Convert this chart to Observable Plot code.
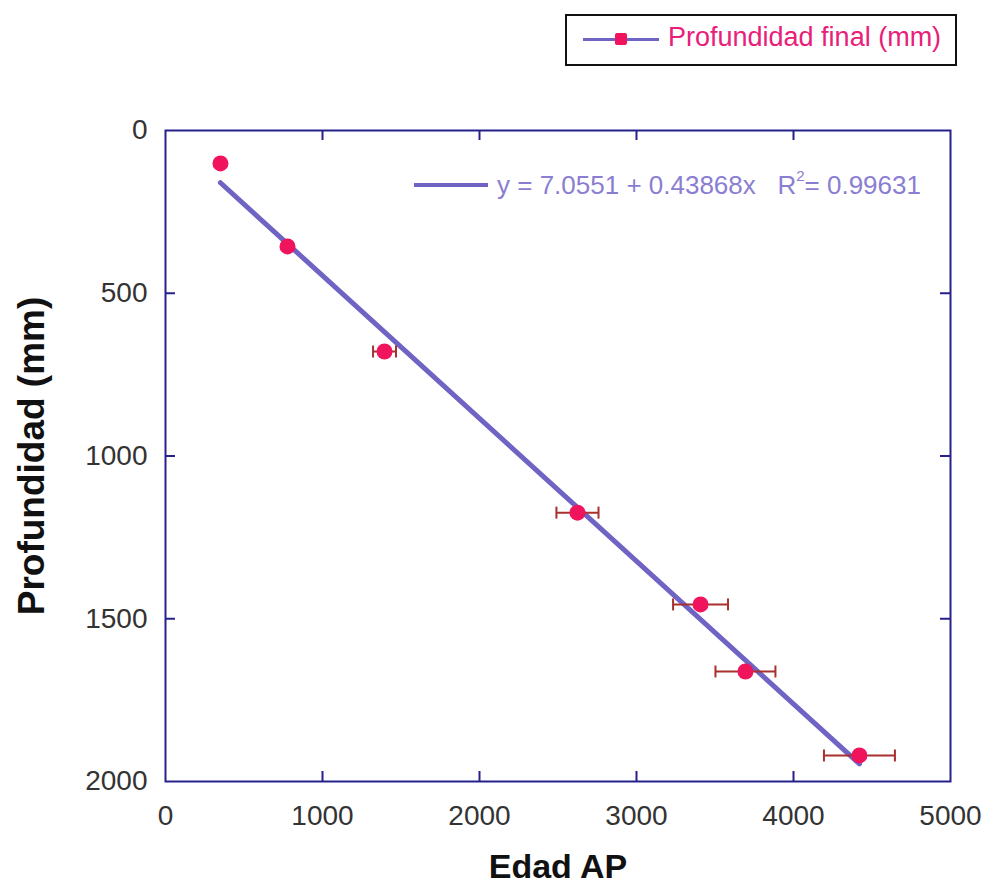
<!DOCTYPE html>
<html>
<head>
<meta charset="utf-8">
<script src="https://cdn.jsdelivr.net/npm/d3@7"></script>
<script src="https://cdn.jsdelivr.net/npm/@observablehq/plot@0.6"></script>
<style>
  html, body { margin: 0; padding: 0; background: #fff; }
  #chart { position: relative; width: 990px; height: 890px; font-family: "Liberation Sans", Arial, sans-serif; }
  #chart svg { display: block; }
  .legend {
    position: absolute; left: 565px; top: 14px; width: 388px; height: 48px;
    border: 2px solid #111; box-sizing: content-box; background: #fff;
  }
  .legend .line { position: absolute; left: 16px; top: 22px; width: 76px; height: 3px; background: #6f63c4; }
  .legend .mark { position: absolute; left: 48px; top: 17px; width: 12px; height: 12px; background: #f0145c; border-radius: 2px; }
  .legend .txt { position: absolute; left: 101px; top: 6px; font-size: 27px; color: #e8207a; white-space: nowrap; }
  .fit { position: absolute; left: 414px; top: 170px; white-space: nowrap; }
  .fit .line { position: absolute; left: 0; top: 13px; width: 74px; height: 4px; background: #6f63c4; }
  .fit .txt { position: absolute; left: 83px; top: 0; font-size: 26px; color: #8a7ed2; }
  .fit sup { font-size: 15px; position: relative; top: -3px; }
</style>
</head>
<body>
<div id="chart"></div>
<script>
// Age (years BP), final depth (mm) and age uncertainty for each dated level
const ages = [350, 777, 1395, 2624, 3408, 3694, 4420];
const depths = [101, 356, 679, 1174, 1456, 1662, 1920];
const ageErrors = [0, 0, 73, 134, 175, 191, 226];

// Linear fit reported for the series
const intercept = 7.0551;
const slope = 0.43868;
const r2 = 0.99631;

// Axis ticks
const xTicks = [0, 1000, 2000, 3000, 4000, 5000];
const yTicks = [0, 500, 1000, 1500, 2000];
const xInnerTicks = [1000, 2000, 3000, 4000];
const yInnerTicks = [500, 1000, 1500];

const rows = ages.map((a, i) => ({age: a, depth: depths[i], err: ageErrors[i]}));
const withErr = rows.filter(d => d.err > 0);
const [a0, a1] = d3.extent(ages);
const fitLine = [a0, a1].map(a => ({age: a, depth: intercept + slope * a}));

// vertical bar used as error-bar caps
const capSymbol = {
  draw(ctx, size) {
    const h = Math.sqrt(size / Math.PI);
    ctx.moveTo(0, -h);
    ctx.lineTo(0, h);
  }
};

const frameColor = "#25208c";
const W = 990, H = 890, mL = 165, mR = 40, mT = 130, mB = 109;
const innerH = H - mT - mB, innerW = W - mL - mR;
const tickLen = 10;

const plot = Plot.plot({
  width: W,
  height: H,
  marginLeft: mL,
  marginRight: mR,
  marginTop: mT,
  marginBottom: mB,
  style: {fontFamily: "'Liberation Sans', Arial, sans-serif", fontSize: "28px", color: "#333", background: "#fff"},
  x: {domain: [0, 5000], label: null},
  y: {domain: [0, 2000], reverse: true, label: null},
  marks: [
    // inward ticks on all four sides
    Plot.tickX(xInnerTicks, {x: d => d, insetTop: innerH - tickLen, stroke: frameColor, strokeWidth: 2}),
    Plot.tickX(xInnerTicks, {x: d => d, insetBottom: innerH - tickLen, stroke: frameColor, strokeWidth: 2}),
    Plot.tickY(yInnerTicks, {y: d => d, insetRight: innerW - tickLen, stroke: frameColor, strokeWidth: 2}),
    Plot.tickY(yInnerTicks, {y: d => d, insetLeft: innerW - tickLen, stroke: frameColor, strokeWidth: 2}),
    Plot.axisX({ticks: xTicks, tickFormat: d => String(d), tickSize: 0, tickPadding: 24, fontSize: 28, fill: "#333", label: null}),
    Plot.axisY({ticks: yTicks, tickFormat: d => String(d), tickSize: 0, tickPadding: 18, fontSize: 28, fill: "#333", label: null}),
    Plot.frame({stroke: frameColor, strokeWidth: 2}),
    // regression line
    Plot.line(fitLine, {x: "age", y: "depth", stroke: "#6f63c4", strokeWidth: 5}),
    // horizontal error bars
    Plot.ruleY(withErr, {y: "depth", x1: d => d.age - d.err, x2: d => d.age + d.err, stroke: "#a8302e", strokeWidth: 2}),
    Plot.dot(withErr, {x: d => d.age - d.err, y: "depth", symbol: capSymbol, r: 6, stroke: "#a8302e", strokeWidth: 2, fill: "none"}),
    Plot.dot(withErr, {x: d => d.age + d.err, y: "depth", symbol: capSymbol, r: 6, stroke: "#a8302e", strokeWidth: 2, fill: "none"}),
    // data points
    Plot.dot(rows, {x: "age", y: "depth", r: 8, fill: "#f0145c", stroke: "none"}),
    // axis titles
    Plot.text(["Profundidad (mm)"], {frameAnchor: "left", textAnchor: "middle", rotate: -90, dx: -133, fontSize: 37, fontWeight: "bold", fill: "#111"}),
    Plot.text(["Edad AP"], {frameAnchor: "bottom", dy: 96, fontSize: 34, fontWeight: "bold", fill: "#111"})
  ]
});

const chart = document.getElementById("chart");
chart.appendChild(plot);

const legend = document.createElement("div");
legend.className = "legend";
legend.innerHTML = '<div class="line"></div><div class="mark"></div><div class="txt">Profundidad final (mm)</div>';
chart.appendChild(legend);

const fit = document.createElement("div");
fit.className = "fit";
fit.innerHTML = '<div class="line"></div><div class="txt">y = ' + intercept + ' + ' + slope + 'x&nbsp;&nbsp; R<sup>2</sup>= ' + r2 + '</div>';
chart.appendChild(fit);
</script>
</body>
</html>
